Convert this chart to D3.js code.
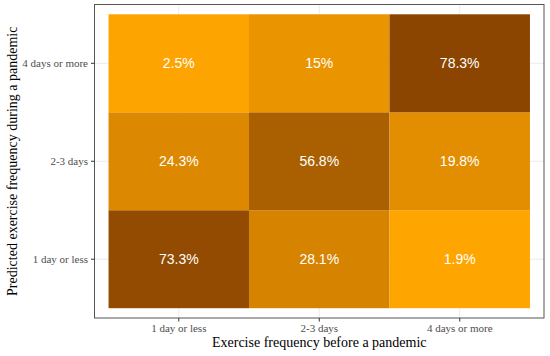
<!DOCTYPE html>
<html>
<head>
<meta charset="utf-8">
<script src="https://cdn.jsdelivr.net/npm/d3@7"></script>
<style>
  body { margin: 0; background: #fff; }
</style>
</head>
<body>
<svg id="chart"></svg>
<script>
// categories (before pandemic on x, predicted during pandemic on y)
var xCats = ["1 day or less", "2-3 days", "4 days or more"];
var yCats = ["1 day or less", "2-3 days", "4 days or more"];

// percentages, one array per y row
var rowLess1 = [73.3, 28.1, 1.9];
var row2to3 = [24.3, 56.8, 19.8];
var row4more = [2.5, 15, 78.3];

var xTitle = "Exercise frequency before a pandemic";
var yTitle = "Predicted exercise frequency during a pandemic";

var cells = [];
[rowLess1, row2to3, row4more].forEach(function (row, j) {
    row.forEach(function (v, i) {
        cells.push({ x: xCats[i], y: yCats[j], v: v });
    });
});

// size of the picture
var svgWidth = 550;
var svgHeight = 356;

// panel box
var panel = { left: 94.5, top: 4.5, right: 544, bottom: 318 };

var svg = d3.select("#chart")
    .attr("width", svgWidth)
    .attr("height", svgHeight);

var x = d3.scaleBand()
    .domain(xCats)
    .range([panel.left, panel.right])
    .paddingInner(0)
    .paddingOuter(0.1);

var y = d3.scaleBand()
    .domain(yCats)
    .range([panel.bottom, panel.top])
    .paddingInner(0)
    .paddingOuter(0.1);

var vals = cells.map(function (d) { return d.v; });
var color = d3.scaleLinear()
    .domain([d3.min(vals), d3.max(vals)])
    .range(["#FFA500", "#8B4500"])
    .interpolate(d3.interpolateLab);

// gridlines
var grid = svg.append("g");
grid.selectAll("line.vx")
    .data(xCats)
    .enter()
    .append("line")
        .attr("x1", function (d) { return x(d) + x.bandwidth() / 2; })
        .attr("x2", function (d) { return x(d) + x.bandwidth() / 2; })
        .attr("y1", panel.top)
        .attr("y2", panel.bottom)
        .attr("stroke", "#EBEBEB")
        .attr("stroke-width", 1);
grid.selectAll("line.hy")
    .data(yCats)
    .enter()
    .append("line")
        .attr("y1", function (d) { return y(d) + y.bandwidth() / 2; })
        .attr("y2", function (d) { return y(d) + y.bandwidth() / 2; })
        .attr("x1", panel.left)
        .attr("x2", panel.right)
        .attr("stroke", "#EBEBEB")
        .attr("stroke-width", 1);

// tiles
svg.append("g").selectAll("rect")
    .data(cells)
    .enter()
    .append("rect")
        .attr("x", function (d) { return x(d.x); })
        .attr("y", function (d) { return y(d.y); })
        .attr("width", x.bandwidth())
        .attr("height", y.bandwidth())
        .attr("fill", function (d) { return color(d.v); });

// labels in tiles
svg.append("g").selectAll("text")
    .data(cells)
    .enter()
    .append("text")
        .attr("x", function (d) { return x(d.x) + x.bandwidth() / 2; })
        .attr("y", function (d) { return y(d.y) + y.bandwidth() / 2; })
        .attr("dy", "0.36em")
        .attr("text-anchor", "middle")
        .style("font-family", "'Liberation Sans', Arial, sans-serif")
        .style("font-size", "14px")
        .style("fill", "#ffffff")
        .text(function (d) { return d.v + "%"; });

// panel border
svg.append("rect")
    .attr("x", panel.left)
    .attr("y", panel.top)
    .attr("width", panel.right - panel.left)
    .attr("height", panel.bottom - panel.top)
    .attr("fill", "none")
    .attr("stroke", "#555555")
    .attr("stroke-width", 1);

// axes
var xAxis = d3.axisBottom(x).tickSize(3.5).tickPadding(3);
var yAxis = d3.axisLeft(y).tickSize(3.5).tickPadding(3);

var gx = svg.append("g")
    .attr("transform", "translate(0," + panel.bottom + ")")
    .call(xAxis);
var gy = svg.append("g")
    .attr("transform", "translate(" + panel.left + ",0)")
    .call(yAxis);

[gx, gy].forEach(function (g) {
    g.select(".domain").remove();
    g.selectAll(".tick line").attr("stroke", "#333333");
    g.selectAll(".tick text")
        .style("font-family", "'Liberation Serif', 'Times New Roman', serif")
        .style("font-size", "11px")
        .style("fill", "#4D4D4D");
});

// axis titles
svg.append("text")
    .attr("x", (panel.left + panel.right) / 2)
    .attr("y", 347)
    .attr("text-anchor", "middle")
    .style("font-family", "'Liberation Serif', 'Times New Roman', serif")
    .style("font-size", "14px")
    .style("fill", "#000")
    .text(xTitle);

svg.append("text")
    .attr("transform", "translate(17," + (panel.top + panel.bottom) / 2 + ") rotate(-90)")
    .attr("text-anchor", "middle")
    .style("font-family", "'Liberation Serif', 'Times New Roman', serif")
    .style("font-size", "14px")
    .style("fill", "#000")
    .text(yTitle);
</script>
</body>
</html>
